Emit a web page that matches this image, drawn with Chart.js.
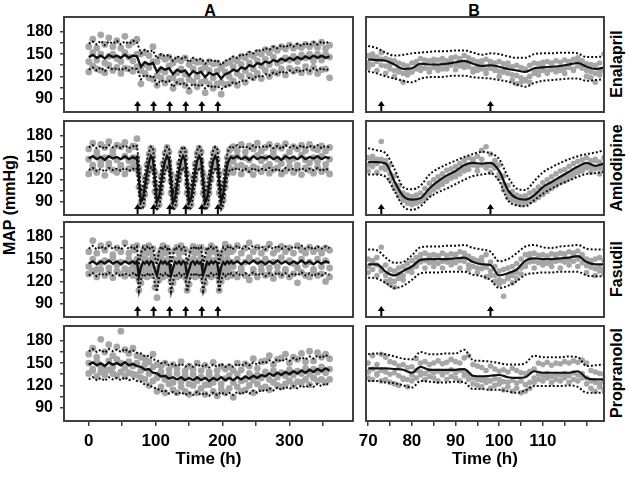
<!DOCTYPE html>
<html lang="en">
<head>
<meta charset="UTF-8">
<title>MAP time courses</title>
<script src="https://cdn.jsdelivr.net/npm/chart.js"></script>
<style>
  body { margin: 0; background: #fff; overflow: hidden; }
  #fig { position: relative; width: 629px; height: 477px; font-family: "Liberation Sans", Arial, sans-serif; font-weight: bold; color: #000; }
  #fig canvas { position: absolute; }
  .lbl { position: absolute; white-space: nowrap; line-height: 1; transform: translate(-50%, -50%); }
  .rot { transform: translate(-50%, -50%) rotate(-90deg); }
</style>
</head>
<body>
<div id="fig">
  <div class="lbl" style="left:210px;top:11px;font-size:16px">A</div>
  <div class="lbl" style="left:474px;top:11px;font-size:16px">B</div>
  <div class="lbl rot" style="left:10px;top:205px;font-size:16px">MAP (mmHg)</div>
  <div class="lbl rot" style="left:617px;top:64px;font-size:16px">Enalapril</div>
  <div class="lbl rot" style="left:617px;top:168px;font-size:16px">Amlodipine</div>
  <div class="lbl rot" style="left:617px;top:269px;font-size:16px">Fasudil</div>
  <div class="lbl rot" style="left:617px;top:373px;font-size:16px">Propranolol</div>
</div>
<script>
// ---- axis ticks ----
const yTickValues = [90, 105, 120, 135, 150, 165, 180];
const yTickLabels = [90, 120, 150, 180];
const xTicksA = [0, 50, 100, 150, 200, 250, 300, 350];
const xLabelsA = [0, 100, 200, 300];
const xTicksB = [70, 75, 80, 85, 90, 95, 100, 105, 110, 115, 120];
const xLabelsB = [70, 80, 90, 100, 110];

// ---- dosing times (h) ----
const dosesA = [73, 97, 121, 145, 169, 193];
const dosesB = [73, 98];

// ---- time grids ----
const tA = [0,6,12,18,24,30,36,42,48,54,60,66,72,78,84,90,96,102,108,114,120,126,132,138,144,150,156,162,168,174,180,186,192,198,204,210,216,222,228,234,240,246,252,258,264,270,276,282,288,294,300,306,312,318,324,330,336,342,348,354,360];
const tAfine = [0,6,12,18,24,30,36,42,48,54,60,66,
  69,72,75,78,81,84,87,90,93,96,99,102,105,108,111,114,117,120,123,126,129,132,135,138,141,144,147,150,153,156,159,162,165,168,171,174,177,180,183,186,189,192,195,198,201,204,207,210,213,
  216,222,228,234,240,246,252,258,264,270,276,282,288,294,300,306,312,318,324,330,336,342,348,354,360];
const tB = [70,72,74,76,78,80,82,84,86,88,90,92,94,96,98,100,102,104,106,108,110,112,114,116,118,120,122,124];
const tBhour = [70,71,72,73,74,75,76,77,78,79,80,81,82,83,84,85,86,87,88,89,90,91,92,93,94,95,96,97,98,99,100,101,102,103,104,105,106,107,108,109,110,111,112,113,114,115,116,117,118,119,120,121,122,123,124];

// ---- Enalapril, A ----
const enaMidA = [146,149,145,148,144,149,146,148,145,149,145,148,147, 133,139,136,138,126,132,129,131,123,129,126,128,121,127,124,126,119,125,122,124,117,123, 125,129,127,132,130,135,133,138,136,140,138,142,140,144,141,145,142,146,143,147,144,148,145,148,145,147];
const enaHiA = [164,167,163,168,162,167,164,168,163,167,164,168,166, 151,156,153,155,144,150,147,149,141,147,144,146,139,145,142,144,137,143,140,142,135,141, 143,147,145,150,148,153,151,156,154,158,156,160,158,162,159,163,160,164,161,165,162,166,163,167,164,168];
const enaLoA = [129,132,128,132,127,132,129,131,128,132,128,131,130, 116,122,119,121,109,115,112,114,106,112,109,111,104,110,107,109,104,108,105,107,103,106, 108,112,110,115,113,118,116,121,119,123,121,125,123,127,124,128,125,129,126,130,127,131,128,131,128,130];
const enaGreyA1 = [160,170,158,176,163,172,160,168,158,174,162,166,170, 150,152,148,160,140,147,143,146,138,143,141,145,136,141,139,140,133,140,137,138,131,137, 139,143,141,147,145,150,147,152,150,156,152,158,155,160,157,162,158,161,159,163,160,164,159,166,158,162];
const enaGreyA2 = [140,152,142,150,138,147,150,144,140,152,146,141,150, 128,136,132,140,121,129,126,134,118,125,130,123,116,130,120,129,114,128,118,127,112,126, 120,133,124,136,128,138,130,141,134,143,136,146,138,141,145,142,147,140,149,145,150,141,150,142,150,146];
const enaGreyA3 = [126,134,130,128,125,135,128,132,124,131,130,127,133, 110,124,118,116,108,118,111,117,104,112,114,108,100,113,106,112,98,110,104,110,96,109, 110,114,108,120,112,121,118,124,117,128,120,126,124,130,122,131,127,129,125,133,126,132,124,129,130,118];

// ---- Amlodipine, A ----
const amlMidA = [149,152,148,151,147,152,149,151,148,152,148,151,
  149,151,122,90,94,112,130,144,152,148, 118,90,96,114,132,146,152,147, 116,89,95,114,132,146,152,147, 117,89,95,113,131,146,152,147, 117,89,95,113,132,146,152,147, 117,90,100,122,140,148,151,
  149,152,148,151,147,152,148,151,149,152,148,151,147,152,149,151,148,152,148,151,149,152,148,151,149];
const amlHiA = [164,167,163,166,162,167,164,166,163,167,163,166,
  164,166,145,104,110,128,146,158,165,163, 140,104,112,130,148,160,165,162, 138,103,111,130,148,160,165,162, 138,103,111,129,147,160,165,162, 138,103,111,129,148,160,165,162, 138,104,116,138,155,163,166,
  164,167,163,166,162,167,163,166,164,167,163,166,162,167,164,166,163,167,163,166,164,167,163,166,164];
const amlLoA = [133,136,132,135,131,136,133,135,132,136,132,135,
  133,135,102,80,82,96,114,129,137,132, 98,80,82,98,116,131,137,131, 96,79,82,98,116,131,137,131, 96,79,82,97,115,130,137,131, 96,79,82,97,116,130,137,131, 96,80,86,106,124,132,135,
  133,136,132,135,131,136,132,135,133,136,132,135,131,136,133,135,132,136,132,135,133,136,132,135,133];
const amlGreyA1 = [162,170,158,168,164,172,160,167,165,171,161,166,
  165,176,135,100,106,122,140,155,163,160, 130,98,106,124,142,156,164,158, 128,98,104,124,142,157,162,158, 128,97,104,123,141,156,163,158, 128,97,104,123,142,156,162,158, 128,99,110,132,150,160,163,
  165,160,168,158,166,162,170,159,164,168,160,166,163,169,158,165,162,167,160,168,163,161,166,159,164];
const amlGreyA2 = [148,140,153,145,150,143,155,147,140,152,146,150,
  142,150,128,88,92,110,126,146,150,152, 116,88,94,110,130,142,155,145, 118,87,92,110,128,145,150,150, 114,88,94,112,128,142,154,146, 116,87,93,110,130,144,150,148, 114,89,98,118,140,145,150,
  145,152,140,150,147,138,153,146,150,141,155,148,142,151,146,149,140,154,147,143,150,145,152,141,148];
const amlGreyA3 = [128,136,130,140,126,138,133,130,137,128,135,138,
  135,138,110,84,86,100,118,132,140,136, 104,84,86,102,120,135,140,136, 102,83,86,103,120,134,141,135, 102,83,86,102,120,135,140,136, 102,83,86,102,120,134,140,136, 102,84,92,110,128,136,134,
  130,138,128,136,133,127,135,131,137,129,134,136,128,132,138,130,135,127,136,133,129,137,131,134,128];

// ---- Fasudil, A ----
const fasMidA = [144,147,143,147,144,148,144,147,143,147,144,147,
  144,147,127,139,146,144,147,143,147,145, 135,128,142,147,144,147,143,146, 128,138,146,144,147,143,147,145, 128,136,145,147,143,147,144,146, 129,137,146,143,147,144,147,145, 127,140,146,143,147,144,147,
  144,147,143,147,144,148,144,147,143,147,144,148,144,147,143,147,144,148,144,147,143,147,144,147,145];
const fasHiA = [164,168,163,167,164,168,164,167,163,168,164,167,
  164,167,142,158,166,163,167,163,167,165, 152,142,160,167,164,167,163,166, 142,156,166,164,167,163,167,165, 142,154,165,167,163,167,164,166, 143,155,166,163,167,164,167,165, 142,158,166,163,167,164,167,
  164,168,163,167,164,168,164,167,163,167,164,168,164,167,163,167,164,168,164,167,163,167,164,167,165];
const fasLoA = [128,131,127,131,128,132,128,131,127,131,128,131,
  128,131,107,122,130,128,131,127,131,129, 116,106,124,131,128,131,127,130, 106,120,130,128,131,127,131,129, 106,118,129,131,127,131,128,130, 107,119,130,127,131,128,131,129, 106,122,130,127,131,128,131,
  128,132,127,131,128,132,128,131,127,131,128,132,128,131,127,131,128,132,128,131,127,131,128,131,129];
const fasGreyA1 = [160,175,158,168,162,170,156,165,160,172,158,166,
  162,168,138,152,160,166,158,168,160,164, 148,136,156,162,168,158,165,160, 136,150,162,166,158,168,160,163, 137,148,160,167,158,165,160,166, 137,150,162,158,168,160,164,158, 136,152,160,170,158,166,160,
  162,168,158,165,172,160,166,158,164,170,158,163,167,160,165,158,168,162,158,166,160,164,158,165,162];
const fasGreyA2 = [140,150,136,145,148,138,152,142,146,137,150,142,
  140,150,122,134,140,150,138,148,140,152, 130,120,138,150,140,148,136,150, 120,130,148,138,150,140,146,136, 121,132,140,150,138,148,140,152, 122,130,142,150,138,148,140,150, 120,134,148,138,150,140,146,
  140,150,138,146,152,136,148,142,150,138,146,140,152,136,148,144,138,150,142,146,136,150,140,148,138];
const fasGreyA3 = [130,134,126,136,128,132,125,134,130,127,135,128,
  132,128,108,118,128,132,126,134,128,130, 112,98,122,130,126,134,128,132, 108,118,130,126,134,128,130,126, 108,116,128,132,126,134,128,130, 108,118,128,134,126,130,128,132, 108,120,128,134,126,132,128,
  130,126,134,128,122,132,126,135,128,130,124,132,128,134,126,130,118,132,128,126,134,128,130,120,126];

// ---- Propranolol, A ----
const proMidA = [148,151,147,150,146,151,148,150,147,151,147,149,146, 145,141,142,137,136,132,133,129,131,128,131,127,130,127,131,127,130,126,130,127,131,127, 130,127,131,128,132,129,133,130,134,132,136,133,137,134,138,135,139,136,140,137,141,138,142,139,143,140];
const proHiA = [166,169,165,168,164,169,166,168,165,169,165,167,164, 163,159,160,155,154,150,151,147,149,146,149,145,148,145,149,145,148,144,148,145,149,145, 148,145,149,146,150,147,151,148,152,150,154,151,155,152,156,153,157,154,158,155,159,156,160,157,161,158];
const proLoA = [128,131,127,130,126,131,128,130,127,131,127,129,126, 125,121,121,117,116,112,113,109,111,108,111,107,110,107,111,107,110,106,110,107,111,107, 110,107,111,108,112,109,113,110,114,112,116,113,117,114,118,115,119,116,120,117,121,118,122,119,123,120];
const proGreyA1 = [162,170,158,182,165,175,160,172,193,168,163,170,160, 158,156,152,162,148,146,150,141,148,143,152,139,146,142,150,140,147,138,151,140,146,142, 145,140,150,141,149,146,156,143,152,153,160,148,155,157,162,150,158,155,163,152,166,153,164,158,162,156];
const proGreyA2 = [150,142,152,145,140,153,145,155,150,143,152,146,150, 140,148,136,145,130,138,128,134,124,136,125,133,122,135,126,131,121,134,124,132,122,129, 133,124,135,126,128,136,127,134,130,138,128,140,131,137,133,141,134,139,136,143,135,142,138,145,137,142];
const proGreyA3 = [136,140,132,138,134,141,136,133,138,132,137,135,134, 130,128,120,126,112,118,110,122,114,110,118,112,108,120,110,116,108,121,112,106,115,110, 116,104,118,112,114,120,110,122,116,118,114,124,120,118,122,126,120,125,124,128,121,130,126,128,124,128];

// ---- Enalapril, B ----
const enaMidB = [143,142,141,136,130,131,137,136,136,137,139,141,137,134,135,133,130,128,126,131,132,133,134,136,138,133,130,132];
const enaHiB = [161,158,152,148,149,151,152,153,154,154,155,155,152,149,151,150,147,145,145,150,151,151,152,152,151,146,146,147];
const enaLoB = [127,124,120,117,114,112,117,119,119,120,121,121,119,118,117,115,113,109,106,111,114,115,116,117,117,114,115,116];
const enaGreyB1 = [148,150,146,152,144,142,141,138,136,134,138,140,144,142,141,143,142,144,141,145,146,144,148,145,142,140,141,143,140,138,140,137,134,133,135,132,130,135,138,137,139,140,138,141,139,142,140,143,145,141,137,136,135,138,150];
const enaGreyB2 = [138,136,140,135,134,130,128,126,124,122,126,130,132,131,130,132,133,130,134,135,136,134,137,133,130,128,130,129,131,128,127,126,124,122,121,118,116,120,124,126,128,127,129,130,128,131,132,130,134,131,128,126,124,127,130];
const enaGreyB3 = [132,146,128,143,124,136,120,130,112,128,126,138,128,139,126,140,128,137,130,141,129,140,132,139,126,134,138,124,136,132,120,126,138,115,110,112,114,112,128,122,134,124,136,126,132,124,138,128,140,134,120,118,112,122,128];

// ---- Amlodipine, B ----
const amlMidB = [144,144,142,118,98,93,95,108,118,126,132,140,143,142,143,132,106,95,93,99,110,117,124,131,138,143,139,142];
const amlHiB = [163,160,156,135,110,107,112,127,135,141,146,151,155,158,156,148,124,108,106,118,130,137,143,148,152,155,157,160];
const amlLoB = [127,127,124,105,84,79,84,96,103,108,114,120,125,127,129,118,92,85,84,92,101,108,114,119,124,128,129,131];
const amlGreyB1 = [150,152,148,172,146,140,125,112,102,99,97,99,102,108,115,120,124,128,133,135,138,142,146,150,148,152,160,165,155,146,140,125,112,104,99,97,98,102,105,110,116,120,124,128,132,134,138,142,145,147,150,146,148,144,150];
const amlGreyB2 = [140,138,142,136,140,128,114,104,96,92,90,91,93,98,104,110,115,118,122,126,129,133,136,139,140,138,140,141,139,136,128,114,102,97,92,91,90,93,96,101,106,110,114,118,121,125,128,132,135,138,140,137,135,136,139];
const amlGreyB3 = [132,146,130,148,134,120,108,98,92,88,86,88,90,94,100,106,110,114,118,122,124,128,132,134,146,132,148,136,130,144,122,106,96,92,88,86,88,90,92,96,100,104,108,112,116,118,122,126,130,132,136,130,146,128,134];

// ---- Fasudil, B ----
const fasMidB = [143,143,133,128,134,140,149,150,150,150,151,152,146,143,142,128,131,136,148,151,150,150,151,152,154,146,143,143];
const fasHiB = [163,162,152,145,146,155,166,167,167,168,168,169,165,163,160,147,150,158,167,169,166,165,167,168,169,164,163,163];
const fasLoB = [125,124,118,111,114,122,131,132,132,133,133,133,129,127,122,111,114,120,129,131,132,132,133,133,133,128,127,127];
const fasGreyB1 = [150,148,152,166,142,136,134,138,140,144,148,152,156,158,155,156,154,158,155,157,156,160,158,154,150,148,152,156,146,140,134,136,138,140,144,150,156,157,158,155,156,154,157,156,158,157,160,158,161,156,150,148,150,152,148];
const fasGreyB2 = [140,136,142,134,128,122,120,124,128,134,138,144,146,148,145,146,144,147,146,148,145,148,147,142,140,138,137,139,134,128,122,120,124,128,132,138,144,146,147,145,146,144,146,147,148,146,149,147,150,145,141,139,137,138,136];
const fasGreyB3 = [132,146,128,138,120,116,112,130,122,136,132,140,150,138,152,140,154,138,150,142,156,138,152,136,150,132,146,126,128,120,116,100,126,118,124,130,140,152,138,154,142,152,140,155,138,152,142,156,140,154,132,144,128,134,130];

// ---- Propranolol, B ----
const proMidB = [143,143,143,142,141,137,145,141,141,141,141,142,133,132,133,134,131,130,131,139,137,137,137,137,139,130,128,128];
const proHiB = [162,163,162,159,156,155,165,162,162,163,163,168,154,153,152,150,148,148,150,160,158,158,158,159,158,146,147,148];
const proLoB = [126,126,124,123,120,117,126,125,124,124,125,124,115,115,114,114,112,110,113,119,119,119,119,120,118,110,110,110];
const proGreyB1 = [150,160,148,162,158,152,150,146,148,144,145,156,150,152,148,150,153,149,151,155,152,150,157,160,148,146,144,140,146,142,139,141,138,143,140,137,136,139,142,150,148,151,147,150,149,152,150,153,151,154,150,140,138,136,135];
const proGreyB2 = [138,142,136,140,138,135,137,133,130,128,134,140,138,136,140,137,139,136,138,141,137,140,138,135,130,128,127,130,126,129,128,125,124,127,123,126,121,124,130,135,133,136,132,135,134,136,133,137,134,136,130,126,124,122,125];
const proGreyB3 = [130,128,134,126,128,124,122,120,128,118,126,130,134,128,132,130,126,134,128,132,130,126,133,128,122,120,118,124,116,120,122,114,118,112,116,110,112,116,124,128,126,130,124,128,126,130,124,128,126,130,122,116,112,118,114];

const panels = [
  {col: 'A', row: 0, t: tA, mid: enaMidA, hi: enaHiA, lo: enaLoA, grey: [enaGreyA1, enaGreyA2, enaGreyA3], gt: tA, doses: dosesA},
  {col: 'A', row: 1, t: tAfine, mid: amlMidA, hi: amlHiA, lo: amlLoA, grey: [amlGreyA1, amlGreyA2, amlGreyA3], gt: tAfine, doses: dosesA},
  {col: 'A', row: 2, t: tAfine, mid: fasMidA, hi: fasHiA, lo: fasLoA, grey: [fasGreyA1, fasGreyA2, fasGreyA3], gt: tAfine, doses: dosesA},
  {col: 'A', row: 3, t: tA, mid: proMidA, hi: proHiA, lo: proLoA, grey: [proGreyA1, proGreyA2, proGreyA3], gt: tA, doses: []},
  {col: 'B', row: 0, t: tB, mid: enaMidB, hi: enaHiB, lo: enaLoB, grey: [enaGreyB1, enaGreyB2, enaGreyB3], gt: tBhour, doses: dosesB},
  {col: 'B', row: 1, t: tB, mid: amlMidB, hi: amlHiB, lo: amlLoB, grey: [amlGreyB1, amlGreyB2, amlGreyB3], gt: tBhour, doses: dosesB},
  {col: 'B', row: 2, t: tB, mid: fasMidB, hi: fasHiB, lo: fasLoB, grey: [fasGreyB1, fasGreyB2, fasGreyB3], gt: tBhour, doses: dosesB},
  {col: 'B', row: 3, t: tB, mid: proMidB, hi: proHiB, lo: proLoB, grey: [proGreyB1, proGreyB2, proGreyB3], gt: tBhour, doses: []}
];

// ---- layout ----
const FONT = '"Liberation Sans", Arial, sans-serif';
const colLeft = {A: 64, B: 366};
const colWidth = {A: 290, B: 239};
const xRange = {A: [-37, 395], B: [69.5, 124]};
const rowTop = [17, 121, 222, 326];
const rowH = [95, 94, 95, 95];
const AXIS = '#404040';
const M = 20; // spare room above/below each panel so tick labels never squeeze it

// frame round each panel
const boxPlugin = {
  id: 'panelBox',
  afterDatasetsDraw(chart) {
    const {ctx, chartArea: a} = chart;
    ctx.save();
    ctx.strokeStyle = AXIS;
    ctx.lineWidth = 2;
    ctx.strokeRect(a.left, a.top, a.right - a.left, a.bottom - a.top);
    ctx.restore();
  }
};

// dosing arrows along the bottom of a panel
const arrowPlugin = {
  id: 'doseArrows',
  defaults: {times: []},
  afterDatasetsDraw(chart, args, opts) {
    const {ctx, chartArea: a} = chart;
    const xs = chart.scales.x;
    ctx.save();
    ctx.strokeStyle = '#000';
    ctx.fillStyle = '#000';
    opts.times.forEach(t => {
      const x = xs.getPixelForValue(t);
      const top = a.bottom - 11;
      ctx.beginPath();
      ctx.lineWidth = 2;
      ctx.moveTo(x, a.bottom - 1);
      ctx.lineTo(x, top + 3);
      ctx.stroke();
      ctx.beginPath();
      ctx.moveTo(x, top);
      ctx.lineTo(x - 3.5, top + 5);
      ctx.lineTo(x + 3.5, top + 5);
      ctx.closePath();
      ctx.fill();
    });
    ctx.restore();
  }
};
Chart.register(boxPlugin, arrowPlugin);

function pts(xs, ys) {
  return ys.map((y, i) => ({x: xs[i], y: y}));
}

const fig = document.getElementById('fig');

panels.forEach(p => {
  const isA = p.col === 'A';
  const bottomRow = p.row === 3;
  const yW = isA ? 56 : 0;
  const padL = isA ? 3 : 14;
  const xH = bottomRow ? 52 : 0;
  const padB = bottomRow ? 3 : M;
  const cw = padL + yW + colWidth[p.col] + 3;
  const ch = M + rowH[p.row] + xH + padB;

  const canvas = document.createElement('canvas');
  canvas.width = cw;
  canvas.height = ch;
  canvas.style.width = cw + 'px';
  canvas.style.height = ch + 'px';
  canvas.style.left = (colLeft[p.col] - yW - padL) + 'px';
  canvas.style.top = (rowTop[p.row] - M) + 'px';
  fig.appendChild(canvas);

  const lineOpts = {
    showLine: true, pointRadius: 0, borderColor: '#111',
    tension: isA ? 0 : 0.4, cubicInterpolationMode: isA ? 'default' : 'monotone'
  };
  const datasets = [
    Object.assign({data: pts(p.t, p.mid), borderWidth: isA ? 2.4 : 2.2, order: 0}, lineOpts),
    Object.assign({data: pts(p.t, p.hi), borderWidth: 2, borderDash: [2, 2], order: 1}, lineOpts),
    Object.assign({data: pts(p.t, p.lo), borderWidth: 2, borderDash: [2, 2], order: 1}, lineOpts)
  ];
  p.grey.forEach(g => {
    datasets.push({
      data: pts(p.gt, g), showLine: false, pointRadius: isA ? 3.4 : 2.8,
      backgroundColor: '#a6a6a6', borderWidth: 0, order: 2
    });
  });

  const xTicks = isA ? xTicksA : xTicksB;
  const xLabels = isA ? xLabelsA : xLabelsB;

  new Chart(canvas, {
    type: 'scatter',
    data: {datasets: datasets},
    options: {
      responsive: false,
      devicePixelRatio: 1,
      animation: false,
      events: [],
      layout: {padding: {left: padL, right: 3, top: M, bottom: padB}},
      plugins: {
        legend: {display: false},
        tooltip: {enabled: false},
        doseArrows: {times: p.doses}
      },
      scales: {
        x: {
          type: 'linear',
          min: xRange[p.col][0],
          max: xRange[p.col][1],
          display: bottomRow,
          afterBuildTicks: s => { s.ticks = xTicks.map(v => ({value: v})); },
          afterFit: s => { s.height = xH; },
          ticks: {
            autoSkip: false, maxRotation: 0, padding: 5, color: '#000',
            font: {family: FONT, size: 17, weight: 'bold'},
            callback: v => xLabels.includes(v) ? String(v) : ''
          },
          grid: {drawOnChartArea: false, drawTicks: true, tickLength: 5, color: AXIS, lineWidth: 1.5},
          border: {display: false},
          title: {
            display: true, text: 'Time (h)', color: '#000',
            font: {family: FONT, size: 17, weight: 'bold'},
            padding: {top: 0, bottom: 3}
          }
        },
        y: {
          type: 'linear',
          min: 72,
          max: 200,
          display: isA,
          afterBuildTicks: s => { s.ticks = yTickValues.map(v => ({value: v})); },
          afterFit: s => { s.width = yW; },
          ticks: {
            autoSkip: false, padding: 7, color: '#000',
            font: {family: FONT, size: 16, weight: 'bold'},
            callback: v => yTickLabels.includes(v) ? String(v) : ''
          },
          grid: {drawOnChartArea: false, drawTicks: true, tickLength: 4, color: AXIS, lineWidth: 1.5},
          border: {display: false}
        }
      }
    }
  });
});
</script>
</body>
</html>
